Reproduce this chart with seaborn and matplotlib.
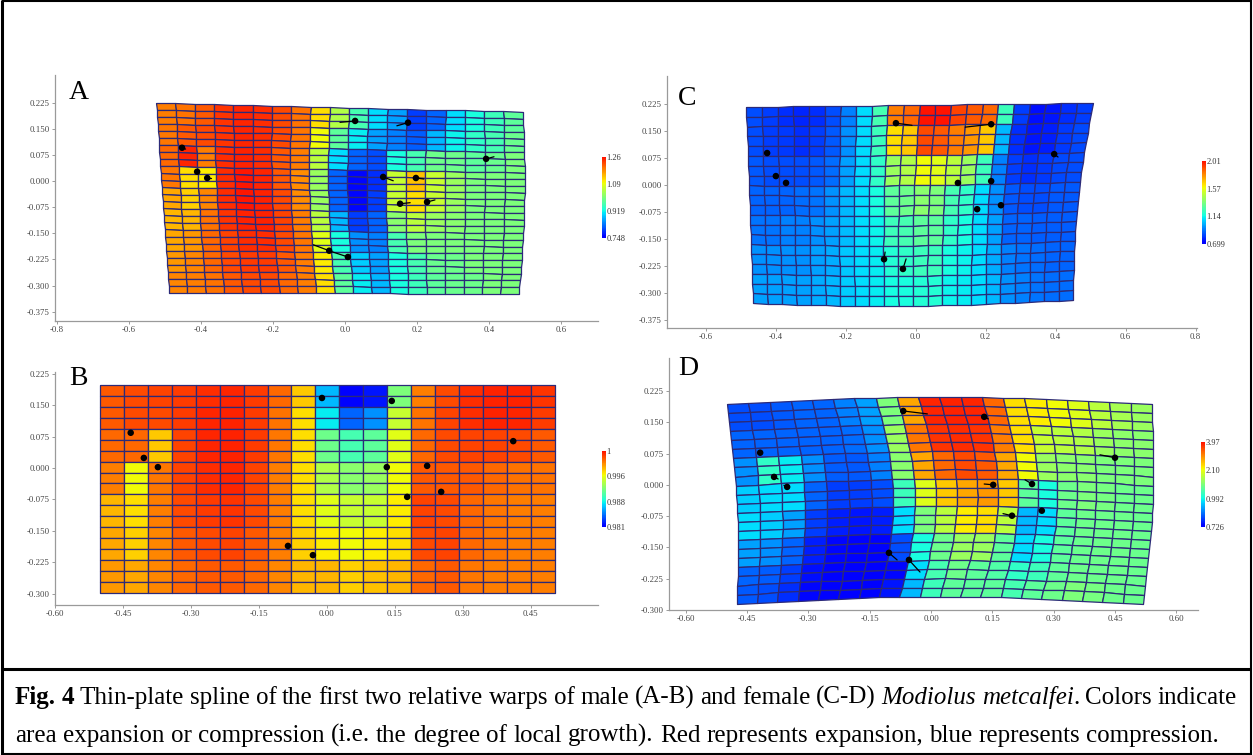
import numpy as np
import pandas as pd
import matplotlib
matplotlib.use('Agg')
import matplotlib.pyplot as plt
import seaborn as sns
from matplotlib.colors import ListedColormap, Normalize
from matplotlib.cm import ScalarMappable
from matplotlib.lines import Line2D

W, H = 1253, 755

# ---------------- Panel A data ----------------
A_xticks = [-0.8, -0.6, -0.4, -0.2, 0.0, 0.2, 0.4, 0.6]
A_xlabels = ['-0.8', '-0.6', '-0.4', '-0.2', '0.0', '0.2', '0.4', '0.6']
A_yticks = [0.225, 0.150, 0.075, 0.0, -0.075, -0.150, -0.225, -0.300, -0.375]
A_ylabels = ['0.225', '0.150', '0.075', '0.000', '-0.075', '-0.150', '-0.225', '-0.300', '-0.375']
A_cbar_labels = ['0.748', '0.919', '1.09', '1.26']
A_band_rows = [3, 3, 3, 3, 3, 3, 3, 3, 3]
A_levels_by_col = [
    [0.85, 0.86, 0.88, 0.86, 0.80, 0.78, 0.80, 0.82, 0.84],
    [0.87, 0.90, 0.97, 0.72, 0.74, 0.78, 0.82, 0.84, 0.85],
    [0.90, 0.92, 0.85, 0.70, 0.84, 0.87, 0.88, 0.88, 0.87],
    [0.95, 0.95, 0.96, 0.96, 0.96, 0.95, 0.93, 0.92, 0.90],
    [0.97, 0.97, 0.98, 0.99, 0.99, 0.98, 0.96, 0.94, 0.92],
    [0.96, 0.96, 0.96, 0.97, 0.98, 0.98, 0.96, 0.94, 0.92],
    [0.92, 0.92, 0.90, 0.90, 0.92, 0.93, 0.92, 0.90, 0.88],
    [0.87, 0.86, 0.85, 0.83, 0.83, 0.85, 0.86, 0.85, 0.85],
    [0.72, 0.68, 0.60, 0.55, 0.55, 0.60, 0.66, 0.70, 0.72],
    [0.58, 0.45, 0.30, 0.15, 0.15, 0.25, 0.35, 0.42, 0.45],
    [0.42, 0.32, 0.15, 0.03, 0.03, 0.10, 0.20, 0.28, 0.32],
    [0.30, 0.22, 0.12, 0.08, 0.10, 0.15, 0.18, 0.22, 0.25],
    [0.22, 0.18, 0.35, 0.62, 0.62, 0.52, 0.42, 0.35, 0.35],
    [0.10, 0.14, 0.42, 0.76, 0.72, 0.60, 0.50, 0.42, 0.40],
    [0.15, 0.25, 0.48, 0.62, 0.62, 0.55, 0.50, 0.47, 0.45],
    [0.30, 0.33, 0.48, 0.55, 0.55, 0.52, 0.50, 0.48, 0.47],
    [0.35, 0.38, 0.45, 0.50, 0.50, 0.50, 0.50, 0.50, 0.48],
    [0.40, 0.42, 0.47, 0.50, 0.50, 0.50, 0.50, 0.50, 0.50],
    [0.45, 0.47, 0.50, 0.50, 0.50, 0.50, 0.50, 0.50, 0.50],
]
A_lm_x = [-0.453, -0.411, -0.383, 0.028, 0.175, 0.392, 0.106, 0.197, 0.153, 0.228, -0.044, 0.008]
A_lm_y = [0.096, 0.027, 0.009, 0.173, 0.168, 0.064, 0.012, 0.009, -0.065, -0.060, -0.200, -0.218]
A_vec_dx = [0.010, 0.0, 0.010, -0.042, -0.031, 0.022, 0.028, 0.022, 0.028, 0.022, -0.044, -0.050]
A_vec_dy = [-0.004, 0.0, 0.0, -0.004, -0.009, 0.006, -0.011, -0.003, 0.003, 0.006, 0.017, 0.017]

# ---------------- Panel B data ----------------
B_xticks = [-0.60, -0.45, -0.30, -0.15, 0.0, 0.15, 0.30, 0.45]
B_xlabels = ['-0.60', '-0.45', '-0.30', '-0.15', '0.00', '0.15', '0.30', '0.45']
B_yticks = [0.225, 0.150, 0.075, 0.0, -0.075, -0.150, -0.225, -0.300]
B_ylabels = ['0.225', '0.150', '0.075', '0.000', '-0.075', '-0.150', '-0.225', '-0.300']
B_cbar_labels = ['0.981', '0.988', '0.996', '1']
B_band_rows = [2, 2, 3, 3, 3, 3, 3]
B_levels_by_col = [
    [0.90, 0.90, 0.88, 0.85, 0.78, 0.80, 0.82],
    [0.92, 0.92, 0.88, 0.68, 0.72, 0.74, 0.80],
    [0.93, 0.92, 0.75, 0.86, 0.85, 0.84, 0.84],
    [0.94, 0.94, 0.93, 0.93, 0.92, 0.90, 0.88],
    [0.96, 0.97, 0.97, 0.96, 0.94, 0.92, 0.90],
    [0.97, 0.98, 0.98, 0.97, 0.95, 0.93, 0.90],
    [0.94, 0.94, 0.94, 0.93, 0.92, 0.90, 0.88],
    [0.88, 0.87, 0.86, 0.85, 0.85, 0.85, 0.84],
    [0.75, 0.72, 0.72, 0.72, 0.72, 0.74, 0.78],
    [0.25, 0.32, 0.48, 0.58, 0.66, 0.70, 0.78],
    [0.02, 0.15, 0.42, 0.52, 0.62, 0.68, 0.74],
    [0.05, 0.20, 0.45, 0.55, 0.62, 0.70, 0.76],
    [0.50, 0.62, 0.66, 0.68, 0.70, 0.72, 0.78],
    [0.85, 0.87, 0.88, 0.90, 0.93, 0.92, 0.88],
    [0.92, 0.93, 0.92, 0.90, 0.92, 0.93, 0.90],
    [0.96, 0.96, 0.93, 0.90, 0.88, 0.88, 0.86],
    [0.98, 0.98, 0.93, 0.88, 0.86, 0.86, 0.85],
    [0.98, 0.97, 0.92, 0.87, 0.85, 0.85, 0.85],
    [0.95, 0.94, 0.90, 0.87, 0.85, 0.85, 0.85],
]
B_lm_x = [-0.433, -0.404, -0.373, -0.086, -0.031, -0.011, 0.143, 0.411, 0.132, 0.221, 0.177, 0.252]
B_lm_y = [0.084, 0.024, 0.002, -0.186, -0.208, 0.167, 0.160, 0.064, 0.002, 0.005, -0.069, -0.057]
B_vec_dx = [0.0] * 12
B_vec_dy = [0.0] * 12

# ---------------- Panel C data ----------------
C_xticks = [-0.6, -0.4, -0.2, 0.0, 0.2, 0.4, 0.6, 0.8]
C_xlabels = ['-0.6', '-0.4', '-0.2', '0.0', '0.2', '0.4', '0.6', '0.8']
C_yticks = [0.225, 0.150, 0.075, 0.0, -0.075, -0.150, -0.225, -0.300, -0.375]
C_ylabels = ['0.225', '0.150', '0.075', '0.000', '-0.075', '-0.150', '-0.225', '-0.300', '-0.375']
C_cbar_labels = ['0.699', '1.14', '1.57', '2.01']
C_band_rows = [2, 3, 3, 3, 3, 3, 3]
C_levels_by_col = [
    [0.12, 0.12, 0.13, 0.15, 0.17, 0.20, 0.22],
    [0.10, 0.10, 0.12, 0.15, 0.17, 0.20, 0.22],
    [0.08, 0.09, 0.12, 0.15, 0.18, 0.20, 0.22],
    [0.07, 0.08, 0.12, 0.16, 0.18, 0.20, 0.22],
    [0.08, 0.10, 0.13, 0.17, 0.20, 0.22, 0.24],
    [0.12, 0.13, 0.16, 0.20, 0.22, 0.24, 0.25],
    [0.18, 0.20, 0.22, 0.25, 0.26, 0.27, 0.28],
    [0.30, 0.30, 0.30, 0.30, 0.30, 0.30, 0.30],
    [0.42, 0.40, 0.38, 0.35, 0.33, 0.32, 0.32],
    [0.85, 0.72, 0.55, 0.45, 0.40, 0.36, 0.34],
    [0.88, 0.75, 0.58, 0.48, 0.42, 0.38, 0.35],
    [1.00, 0.92, 0.68, 0.52, 0.45, 0.40, 0.36],
    [1.00, 0.90, 0.66, 0.50, 0.45, 0.40, 0.36],
    [0.93, 0.85, 0.60, 0.42, 0.38, 0.35, 0.33],
    [0.90, 0.82, 0.55, 0.38, 0.35, 0.33, 0.32],
    [0.88, 0.75, 0.40, 0.30, 0.30, 0.30, 0.30],
    [0.40, 0.25, 0.18, 0.20, 0.22, 0.24, 0.25],
    [0.10, 0.08, 0.10, 0.13, 0.15, 0.18, 0.20],
    [0.04, 0.05, 0.08, 0.12, 0.15, 0.17, 0.18],
    [0.05, 0.06, 0.09, 0.12, 0.14, 0.16, 0.17],
    [0.08, 0.09, 0.11, 0.13, 0.14, 0.15, 0.16],
    [0.10, 0.11, 0.12, 0.13, 0.14, 0.15, 0.16],
]
C_lm_x = [-0.424, -0.399, -0.370, -0.056, 0.216, 0.396, 0.121, 0.216, 0.176, 0.244, -0.090, -0.036]
C_lm_y = [0.089, 0.025, 0.006, 0.172, 0.169, 0.086, 0.006, 0.011, -0.067, -0.056, -0.206, -0.233]
C_vec_dx = [0.0, 0.0, 0.0, 0.046, -0.074, 0.011, 0.0, 0.0, 0.0, 0.0, 0.003, 0.009]
C_vec_dy = [0.0, 0.0, 0.0, -0.006, -0.008, -0.008, 0.0, 0.0, 0.0, 0.0, 0.020, 0.028]

# ---------------- Panel D data ----------------
D_xticks = [-0.60, -0.45, -0.30, -0.15, 0.0, 0.15, 0.30, 0.45, 0.60]
D_xlabels = ['-0.60', '-0.45', '-0.30', '-0.15', '0.00', '0.15', '0.30', '0.45', '0.60']
D_yticks = [0.225, 0.150, 0.075, 0.0, -0.075, -0.150, -0.225, -0.300]
D_ylabels = ['0.225', '0.150', '0.075', '0.000', '-0.075', '-0.150', '-0.225', '-0.300']
D_cbar_labels = ['0.726', '0.992', '2.10', '3.97']
D_band_rows = [3, 3, 3, 3, 3, 3, 2, 2]
D_levels_by_col = [
    [0.12, 0.15, 0.20, 0.28, 0.30, 0.22, 0.15, 0.13],
    [0.12, 0.15, 0.38, 0.30, 0.28, 0.20, 0.14, 0.12],
    [0.13, 0.15, 0.32, 0.30, 0.22, 0.15, 0.10, 0.08],
    [0.15, 0.15, 0.20, 0.15, 0.10, 0.06, 0.04, 0.03],
    [0.15, 0.15, 0.14, 0.10, 0.06, 0.03, 0.02, 0.02],
    [0.18, 0.16, 0.13, 0.10, 0.05, 0.02, 0.01, 0.01],
    [0.22, 0.20, 0.18, 0.12, 0.06, 0.02, 0.00, 0.02],
    [0.50, 0.55, 0.52, 0.40, 0.30, 0.12, 0.03, 0.05],
    [0.80, 0.86, 0.80, 0.65, 0.50, 0.35, 0.30, 0.25],
    [0.97, 0.95, 0.88, 0.75, 0.60, 0.48, 0.42, 0.40],
    [0.98, 0.96, 0.92, 0.80, 0.70, 0.55, 0.48, 0.45],
    [0.97, 0.95, 0.90, 0.82, 0.72, 0.55, 0.45, 0.45],
    [0.88, 0.85, 0.80, 0.75, 0.60, 0.45, 0.43, 0.45],
    [0.72, 0.72, 0.68, 0.45, 0.25, 0.30, 0.38, 0.42],
    [0.70, 0.62, 0.55, 0.35, 0.30, 0.35, 0.40, 0.45],
    [0.68, 0.60, 0.53, 0.48, 0.45, 0.45, 0.46, 0.48],
    [0.65, 0.58, 0.52, 0.50, 0.48, 0.47, 0.48, 0.50],
    [0.60, 0.55, 0.50, 0.49, 0.48, 0.48, 0.48, 0.49],
    [0.57, 0.53, 0.50, 0.48, 0.48, 0.48, 0.48, 0.48],
    [0.55, 0.52, 0.50, 0.48, 0.47, 0.47, 0.47, 0.47],
]
D_lm_x = [-0.418, -0.384, -0.352, -0.068, 0.130, 0.450, 0.152, 0.247, 0.198, 0.271, -0.103, -0.054]
D_lm_y = [0.077, 0.019, -0.005, 0.177, 0.163, 0.065, 0.000, 0.002, -0.074, -0.062, -0.163, -0.180]
D_vec_dx = [0.0, 0.010, -0.008, 0.059, 0.010, -0.037, -0.022, -0.017, -0.022, 0.0, 0.020, 0.027]
D_vec_dy = [0.0, -0.005, 0.004, -0.007, -0.005, 0.007, 0.002, 0.010, 0.005, 0.0, -0.017, -0.029]

CAPTION_1 = [("Fig. 4", "bold", "normal"),
             ("Thin-plate spline of the first two relative warps of male (A-B) and female (C-D)", "normal", "normal"),
             ("Modiolus metcalfei", "normal", "italic"),
             (". Colors indicate", "normal", "normal")]
CAPTION_2 = [("area expansion or compression (i.e. the degree of local growth). Red represents expansion, blue represents compression.", "normal", "normal")]

# ---------------- layout / style ----------------
sns.set_theme(style="white")
SERIF = ['Liberation Serif', 'DejaVu Serif']
plt.rcParams['font.family'] = SERIF

jet = plt.get_cmap('jet')
CMAP = ListedColormap(jet(np.linspace(0.11, 0.89, 256)))
GRID_COLOR = '#2c2a78'

fig = plt.figure(figsize=(W / 100, H / 100), dpi=100)
fig.patch.set_facecolor('white')


def px_rect(x0, y0, x1, y1):
    return [x0 / W, 1 - y1 / H, (x1 - x0) / W, (y1 - y0) / H]


def build_grid(corners, ncols, nrows, edge_bow, inner_bow):
    TL, TR, BR, BL = [np.array(c, dtype=float) for c in corners]
    u = np.linspace(0, 1, ncols + 1)
    v = np.linspace(0, 1, nrows + 1)
    U, V = np.meshgrid(u, v)
    X = (1 - U) * (1 - V) * TL[0] + U * (1 - V) * TR[0] + U * V * BR[0] + (1 - U) * V * BL[0]
    Y = (1 - U) * (1 - V) * TL[1] + U * (1 - V) * TR[1] + U * V * BR[1] + (1 - U) * V * BL[1]
    top, bottom, left, right = edge_bow
    Y = Y + top * np.sin(np.pi * U) * (1 - V) + bottom * np.sin(np.pi * U) * V
    X = X + left * np.sin(np.pi * V) * (1 - U) + right * np.sin(np.pi * V) * U
    X = X + inner_bow * np.sin(np.pi * V) * np.sin(np.pi * U)
    return X, Y


def panel(rect, xlim, ylim, xt, xl, yt, yl, corners, bows, inner, levels_by_col, band_rows,
          lx, ly, vdx, vdy, cbar_rect, cbar_labels, letter, letter_px):
    ax = fig.add_axes(px_rect(*rect))
    lev = np.array(levels_by_col).T
    C = np.repeat(lev, band_rows, axis=0)
    nrows, ncols = C.shape
    X, Y = build_grid(corners, ncols, nrows, bows, inner)
    ax.pcolormesh(X, Y, C, cmap=CMAP, vmin=0, vmax=1, shading='flat',
                  edgecolors=GRID_COLOR, linewidth=0.9, antialiased=True, zorder=2)
    # deformation vectors
    for x, y, dx, dy in zip(lx, ly, vdx, vdy):
        if dx != 0 or dy != 0:
            ax.plot([x, x + dx], [y, y + dy], color='black', lw=0.9, zorder=4)
    df = pd.DataFrame({'x': lx, 'y': ly})
    sns.scatterplot(data=df, x='x', y='y', ax=ax, color='black', s=22,
                    edgecolor='none', linewidth=0, zorder=5, legend=False)
    ax.set_xlim(xlim)
    ax.set_ylim(ylim)
    ax.set_xticks(xt)
    ax.set_xticklabels(xl)
    ax.set_yticks(yt)
    ax.set_yticklabels(yl)
    ax.set_xlabel('')
    ax.set_ylabel('')
    for s in ['top', 'right']:
        ax.spines[s].set_visible(False)
    for s in ['left', 'bottom']:
        ax.spines[s].set_color('#9a9a9a')
        ax.spines[s].set_linewidth(0.9)
    ax.tick_params(axis='both', length=2.5, width=0.7, color='#9a9a9a', labelsize=6.3,
                   labelcolor='#444444', pad=1.2, direction='out', left=True, bottom=True)
    ax.set_facecolor('none')
    # colorbar
    cax = fig.add_axes(px_rect(*cbar_rect))
    sm = ScalarMappable(norm=Normalize(0, 1), cmap=CMAP)
    cb = fig.colorbar(sm, cax=cax)
    cb.set_ticks([0, 1 / 3, 2 / 3, 1])
    cb.set_ticklabels(cbar_labels)
    cb.outline.set_visible(False)
    cax.tick_params(length=0, labelsize=6.0, pad=0.5, labelcolor='#333333')
    # panel letter
    fig.text(letter_px[0] / W, 1 - letter_px[1] / H, letter, fontsize=20, ha='left',
             va='baseline', color='black', family=SERIF)
    return ax


panel((55, 75, 598, 321), (-0.806, 0.703), (-0.402, 0.305), A_xticks, A_xlabels, A_yticks, A_ylabels,
      [(-0.525, 0.225), (0.494, 0.199), (0.483, -0.324), (-0.489, -0.321)], (0, 0, 0, 0.01), -0.015,
      A_levels_by_col, A_band_rows, A_lm_x, A_lm_y, A_vec_dx, A_vec_dy,
      (602, 157, 606, 238), A_cbar_labels, 'A', (69, 99))

panel((55, 372, 598, 605), (-0.600, 0.598), (-0.327, 0.229), B_xticks, B_xlabels, B_yticks, B_ylabels,
      [(-0.501, 0.198), (0.503, 0.198), (0.503, -0.298), (-0.501, -0.298)], (0, 0, 0, 0), 0.0,
      B_levels_by_col, B_band_rows, B_lm_x, B_lm_y, B_vec_dx, B_vec_dy,
      (602, 451, 606, 527), B_cbar_labels, 'B', (69, 385))

panel((667, 76, 1197, 328), (-0.710, 0.804), (-0.397, 0.303), C_xticks, C_xlabels, C_yticks, C_ylabels,
      [(-0.484, 0.217), (0.507, 0.228), (0.450, -0.319), (-0.464, -0.328)], (0, -0.012, 0, -0.015), 0.0,
      C_levels_by_col, C_band_rows, C_lm_x, C_lm_y, C_vec_dx, C_vec_dy,
      (1202, 161, 1206, 244), C_cbar_labels, 'C', (678, 105))

panel((669, 358, 1198, 610), (-0.641, 0.653), (-0.300, 0.304), D_xticks, D_xlabels, D_yticks, D_ylabels,
      [(-0.499, 0.194), (0.540, 0.194), (0.518, -0.285), (-0.475, -0.285)], (0.017, 0.017, 0.012, 0.013), 0.03,
      D_levels_by_col, D_band_rows, D_lm_x, D_lm_y, D_vec_dx, D_vec_dy,
      (1201, 442, 1205, 527), D_cbar_labels, 'D', (678, 375))

# ---------------- frame ----------------
def fig_line(x0, y0, x1, y1, lw):
    fig.add_artist(Line2D([x0 / W, x1 / W], [1 - y0 / H, 1 - y1 / H], color='black', lw=lw,
                          transform=fig.transFigure, solid_capstyle='butt'))

fig_line(2, 1, 1251, 1, 1.5)
fig_line(2, 0, 2, 755, 2.2)
fig_line(1251, 0, 1251, 755, 1.5)
fig_line(2, 669, 1251, 669, 2.2)
fig_line(2, 754, 1251, 754, 1.5)

# ---------------- caption ----------------
renderer = fig.canvas.get_renderer()


def measure(txt, fs, weight, style):
    t = fig.text(0, 0, txt, fontsize=fs, fontweight=weight, fontstyle=style, family=SERIF)
    w = t.get_window_extent(renderer).width
    t.remove()
    return w


def words_of(pieces):
    out = []
    for txt, wgt, sty in pieces:
        for k, wd in enumerate(txt.split(' ')):
            if wd == '':
                continue
            glue = (k == 0 and wd.startswith('.'))
            out.append((wd, wgt, sty, glue))
    return out


FS0 = 16.0
w2 = measure(CAPTION_2[0][0], FS0, 'normal', 'normal')
FS = FS0 * (1203.0 / w2)


def draw_line(pieces, y_base, x0, x1, justify):
    words = words_of(pieces)
    widths = [measure(w, FS, g, s) for w, g, s, _ in words]
    space = FS * 100 / 72 * 0.25
    ngaps = sum(1 for i, wd in enumerate(words) if i > 0 and not wd[3])
    total = sum(widths) + ngaps * space
    gap = space
    if justify and ngaps:
        gap = space + (x1 - x0 - total) / ngaps
    x = x0
    for i, ((wd, g, s, glue), w) in enumerate(zip(words, widths)):
        if i > 0 and not glue:
            x += gap
        fig.text(x / W, 1 - y_base / H, wd, fontsize=FS, fontweight=g, fontstyle=s,
                 family=SERIF, ha='left', va='baseline', color='black')
        x += w


draw_line(CAPTION_1, 704, 15, 1237, True)
draw_line(CAPTION_2, 742, 15, 1237, False)

fig.savefig('out.png', dpi=100, facecolor='white')
